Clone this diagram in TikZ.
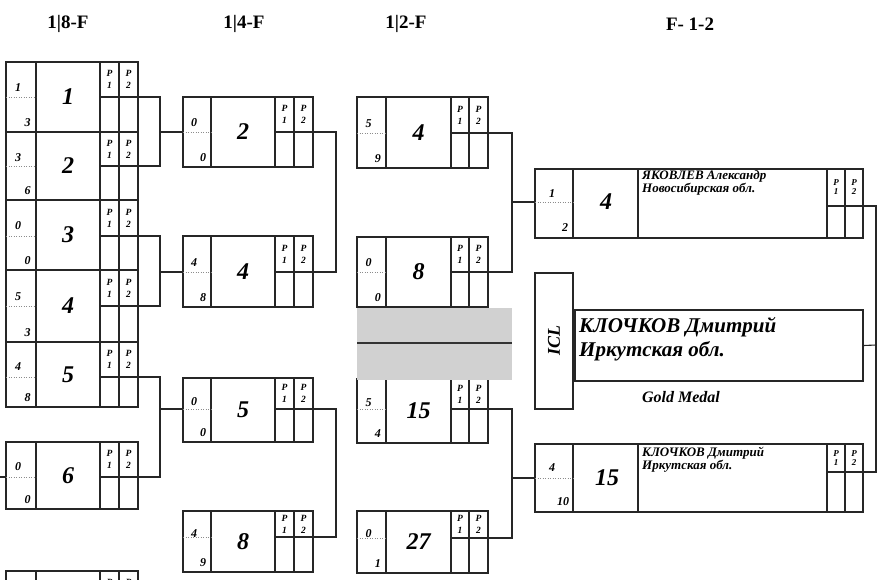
\documentclass[tikz,border=0pt]{standalone}
\usepackage{fontspec}
\setmainfont{Liberation Serif}
\tikzset{
  box/.style={draw=black!85, line width=1.1pt},
  conn/.style={draw=black!85, line width=1.1pt},
  dotl/.style={draw=black!45, line width=0.5pt, dotted},
  numtxt/.style={font=\bfseries\itshape\fontsize{24}{24}\selectfont, inner sep=0pt},
  sctxt/.style={font=\bfseries\itshape\fontsize{12}{12}\selectfont, inner sep=0pt},
  ptxt/.style={font=\bfseries\itshape\fontsize{9.5}{12}\selectfont, align=center, inner sep=0pt},
  fptxt/.style={font=\bfseries\itshape\fontsize{9}{9.5}\selectfont, align=center, inner sep=0pt},
  hdr/.style={font=\bfseries\fontsize{19}{19}\selectfont, inner sep=0pt},
  nametxt/.style={font=\bfseries\itshape\fontsize{13}{13}\selectfont, align=left, inner sep=0pt, anchor=north west},
  winname/.style={font=\bfseries\itshape\fontsize{21}{24}\selectfont, align=left, inner sep=0pt, anchor=north west},
}
% column x positions: left, score|num, num|P1, P1|P2, right
\def\xAa{6}\def\xAb{36}\def\xAc{100}\def\xAd{119}\def\xAe{138}
\def\xBa{183}\def\xBb{211}\def\xBc{275}\def\xBd{294}\def\xBe{313}
\def\xCa{357}\def\xCb{386}\def\xCc{451}\def\xCd{469}\def\xCe{488}
% \bbox{name}{column}{top}{bottom}{P line}{score top}{score bottom}{number}
\newcommand\bbox[8]{%
  \edef\bxa{\csname x#2a\endcsname}%
  \edef\bxb{\csname x#2b\endcsname}%
  \edef\bxc{\csname x#2c\endcsname}%
  \edef\bxd{\csname x#2d\endcsname}%
  \edef\bxe{\csname x#2e\endcsname}%
  \draw[box] (\bxa,#3) rectangle (\bxe,#4);
  \draw[box] (\bxb,#3) -- (\bxb,#4) (\bxc,#3) -- (\bxc,#4) (\bxd,#3) -- (\bxd,#4) (\bxc,#5) -- (\bxe,#5);
  \draw[dotl] (\bxa,#5) -- (\bxb,#5);
  \pgfmathsetmacro\bsx{\bxa+0.4*(\bxb-\bxa)}%
  \pgfmathsetmacro\bsy{#3+0.37*(#4-#3)}%
  \pgfmathsetmacro\btx{\bxa+0.72*(\bxb-\bxa)}%
  \pgfmathsetmacro\bty{#4-9}%
  \pgfmathsetmacro\bnx{(\bxb+\bxc)/2}%
  \pgfmathsetmacro\bny{(#3+#4)/2}%
  \pgfmathsetmacro\bpa{(\bxc+\bxd)/2}%
  \pgfmathsetmacro\bpb{(\bxd+\bxe)/2}%
  \pgfmathsetmacro\bpy{(#3+#5)/2}%
  \node[sctxt] (#1-s1) at (\bsx,\bsy) {#6};
  \node[sctxt] (#1-s2) at (\btx,\bty) {#7};
  \node[numtxt] (#1-n) at (\bnx,\bny) {#8};
  \node[ptxt] (#1-p1) at (\bpa,\bpy) {P\\1};
  \node[ptxt] (#1-p2) at (\bpb,\bpy) {P\\2};
  \coordinate (#1-in) at (\bxa,#5);
  \coordinate (#1-out) at (\bxe,#5);
}
\begin{document}
\begin{tikzpicture}[x=1pt,y=-1pt]
\useasboundingbox (0,0) rectangle (882,579);
\clip (0,0) rectangle (882,579);
\fill[white] (0,0) rectangle (882,579);

% headers
\node[hdr] (h1) at (68,24) {1|8-F};
\node[hdr] (h2) at (244,24) {1|4-F};
\node[hdr] (h3) at (406,24) {1|2-F};
\node[hdr] (h4) at (690,24) {F- 1-2};

% round 1/8
\bbox{r1a}{A}{62}{132}{97}{1}{3}{1}
\bbox{r1b}{A}{132}{200}{166}{3}{6}{2}
\bbox{r1c}{A}{200}{270}{236}{0}{0}{3}
\bbox{r1d}{A}{270}{342}{306}{5}{3}{4}
\bbox{r1e}{A}{342}{407}{377}{4}{8}{5}
\bbox{r1f}{A}{442}{509}{477}{0}{0}{6}
\bbox{r1g}{A}{571}{640}{606}{}{}{}

% round 1/4
\bbox{r2a}{B}{97}{167}{132}{0}{0}{2}
\bbox{r2b}{B}{236}{307}{272}{4}{8}{4}
\bbox{r2c}{B}{378}{442}{409}{0}{0}{5}
\bbox{r2d}{B}{511}{572}{537}{4}{9}{8}

% round 1/2
\bbox{r3a}{C}{97}{168}{133}{5}{9}{4}
\bbox{r3b}{C}{237}{307}{272}{0}{0}{8}
\bbox{r3c}{C}{379}{443}{409}{5}{4}{15}
\bbox{r3d}{C}{511}{573}{538}{0}{1}{27}

% grey band
\fill[black!18] (357,308) rectangle (512,380);
\draw[black!80, line width=1.6pt] (357,343) -- (512,343);

% final box A
\draw[box] (535,169) rectangle (863,238);
\draw[box] (573,169) -- (573,238) (638,169) -- (638,238) (827,169) -- (827,238) (845,169) -- (845,238) (827,206) -- (863,206);
\draw[dotl] (535,202) -- (573,202);
\node[sctxt] (fa-s1) at (552,194) {1};
\node[sctxt] (fa-s2) at (565,228) {2};
\node[numtxt] (fa-n) at (606,202) {4};
\node[nametxt] (fa-name) at (642,170) {ЯКОВЛЕВ Александр\\Новосибирская обл.};
\node[fptxt] (fa-p1) at (836,187) {P\\1};
\node[fptxt] (fa-p2) at (854,187) {P\\2};
\coordinate (fa-in) at (535,202);
\coordinate (fa-out) at (863,206);

% final box B
\draw[box] (535,444) rectangle (863,512);
\draw[box] (573,444) -- (573,512) (638,444) -- (638,512) (827,444) -- (827,512) (845,444) -- (845,512) (827,472) -- (863,472);
\draw[dotl] (535,478) -- (573,478);
\node[sctxt] (fb-s1) at (552,468) {4};
\node[sctxt] (fb-s2) at (563,502) {10};
\node[numtxt] (fb-n) at (607,478) {15};
\node[nametxt] (fb-name) at (642,447) {КЛОЧКОВ Дмитрий\\Иркутская обл.};
\node[fptxt] (fb-p1) at (836,458) {P\\1};
\node[fptxt] (fb-p2) at (854,458) {P\\2};
\coordinate (fb-in) at (535,478);
\coordinate (fb-out) at (863,472);

% ICL and winner
\node[box, minimum width=38pt, minimum height=136pt, inner sep=0pt] (icl) at (554,341) {};
\node[font=\bfseries\itshape\fontsize{18}{18}\selectfont, rotate=90, inner sep=0pt] (icl-t) at (554,340) {ICL};
\node[box, minimum width=288pt, minimum height=71pt, inner sep=0pt] (win) at (719,345.5) {};
\node[winname] (win-t) at (579,317) {КЛОЧКОВ Дмитрий\\Иркутская обл.};
\node[font=\bfseries\itshape\fontsize{16}{16}\selectfont, inner sep=0pt] (gold) at (681,397) {Gold Medal};

% junctions
\coordinate (k1) at (160,132);
\coordinate (k2) at (160,272);
\coordinate (k3) at (160,409);
\coordinate (k4) at (336,202);
\coordinate (k5) at (336,473);
\coordinate (k6) at (512,202);
\coordinate (k7) at (512,478);
\coordinate (k8) at (876,345);
\coordinate (stub) at (0,477);

% connectors
\draw[conn] (r1a-out) -| (k1) |- (r1b-out);
\draw[conn] (k1) -- (r2a-in);
\draw[conn] (r1c-out) -| (k2) |- (r1d-out);
\draw[conn] (k2) -- (r2b-in);
\draw[conn] (r1e-out) -| (k3) |- (r1f-out);
\draw[conn] (k3) -- (r2c-in);
\draw[conn] (stub) -- (r1f-in);
\draw[conn] (r2a-out) -| (k4) |- (r2b-out);
\draw[conn] (r2c-out) -| (k5) |- (r2d-out);
\draw[conn] (r3a-out) -| (k6) |- (r3b-out);
\draw[conn] (k6) -- (fa-in);
\draw[conn] (r3c-out) -| (k7) |- (r3d-out);
\draw[conn] (k7) -- (fb-in);
\draw[conn] (fa-out) -| (k8) |- (fb-out);
\draw[conn] (k8) -- (win.east);
\end{tikzpicture}
\end{document}
